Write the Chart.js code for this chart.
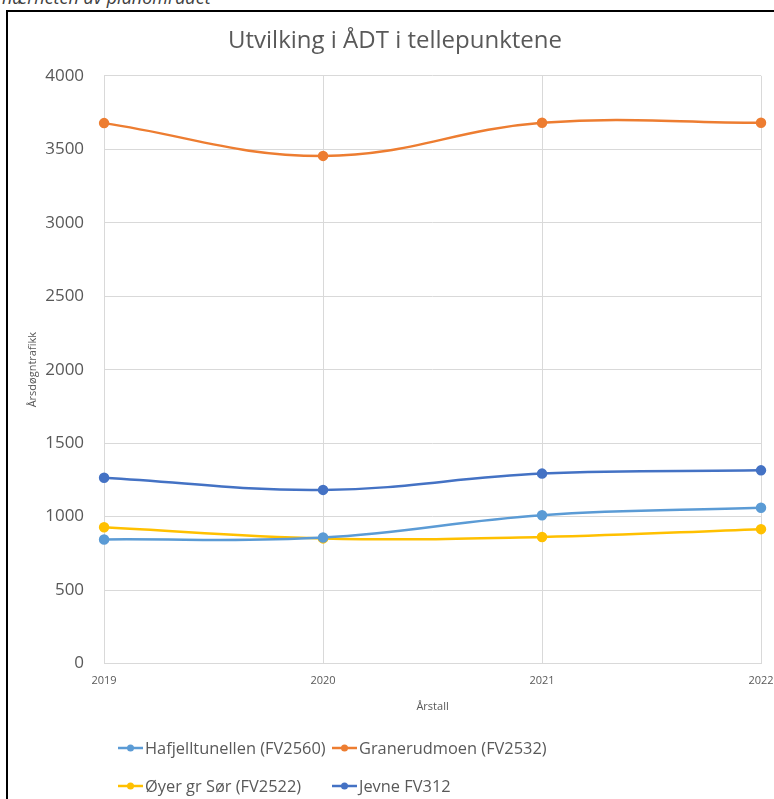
<!DOCTYPE html>
<html lang="no">
<head>
    <meta charset="UTF-8">
    <title>Utvilking i ÅDT i tellepunktene</title>
    <script src="https://cdn.jsdelivr.net/npm/chart.js"></script>
    <style>
        body {
            margin: 0;
            background: #ffffff;
            width: 774px;
            height: 799px;
            overflow: hidden;
            position: relative;
            font-family: 'Open Sans', sans-serif;
        }
        .caption {
            position: absolute;
            left: 2px;
            top: -15px;
            font-size: 18px;
            font-style: italic;
            color: #404040;
            white-space: nowrap;
        }
        .frame {
            position: absolute;
            left: 6px;
            top: 10px;
            width: 800px;
            height: 800px;
            border-left: 2px solid #000;
            border-top: 2px solid #000;
        }
        .chart-box {
            position: absolute;
            left: 8px;
            top: 12px;
            width: 766px;
            height: 787px;
        }
    </style>
</head>
<body>
    <div class="caption">nærheten av planområdet</div>
    <div class="frame"></div>
    <div class="chart-box">
        <canvas id="adtChart"></canvas>
    </div>

    <script>
        // Data lest av figuren
        const years = ['2019', '2020', '2021', '2022'];
        const hafjelltunellen = [845, 858, 1010, 1060];
        const granerudmoen = [3678, 3455, 3680, 3680];
        const oyerSor = [928, 852, 862, 915];
        const jevne = [1265, 1182, 1293, 1315];
        const seriesNames = ['Hafjelltunellen (FV2560)', 'Granerudmoen (FV2532)', 'Øyer gr Sør (FV2522)', 'Jevne FV312'];
        const seriesColors = ['#5B9BD5', '#ED7D31', '#FFC000', '#4472C4'];
        const yTicks = [0, 500, 1000, 1500, 2000, 2500, 3000, 3500, 4000];

        const textColor = '#595959';
        const gridColor = '#d9d9d9';

        function makeSet(i, values) {
            return {
                label: seriesNames[i],
                data: values,
                borderColor: seriesColors[i],
                backgroundColor: seriesColors[i],
                borderWidth: 2.5,
                pointRadius: 4,
                pointHoverRadius: 4,
                tension: 0.4,
                fill: false
            };
        }

        // Legende i to kolonner, slik Excel tegner den
        const excelLegend = {
            id: 'excelLegend',
            afterDraw(chart) {
                const ctx = chart.ctx;
                const cols = [110, 324];
                const rows = [chart.height - 51, chart.height - 13];
                ctx.save();
                ctx.font = '16.4px "Open Sans", sans-serif';
                ctx.textBaseline = 'middle';
                chart.data.datasets.forEach((ds, i) => {
                    const x = cols[i % 2];
                    const y = rows[Math.floor(i / 2)];
                    ctx.strokeStyle = ds.borderColor;
                    ctx.lineWidth = 2.5;
                    ctx.beginPath();
                    ctx.moveTo(x, y);
                    ctx.lineTo(x + 25, y);
                    ctx.stroke();
                    ctx.fillStyle = ds.borderColor;
                    ctx.beginPath();
                    ctx.arc(x + 12.5, y, 3.5, 0, Math.PI * 2);
                    ctx.fill();
                    ctx.fillStyle = textColor;
                    ctx.fillText(ds.label, x + 27, y + 1);
                });
                ctx.restore();
            }
        };

        const ctx = document.getElementById('adtChart').getContext('2d');
        new Chart(ctx, {
            type: 'line',
            data: {
                labels: years,
                datasets: [
                    makeSet(0, hafjelltunellen),
                    makeSet(1, granerudmoen),
                    makeSet(2, oyerSor),
                    makeSet(3, jevne)
                ]
            },
            options: {
                responsive: true,
                maintainAspectRatio: false,
                animation: false,
                layout: {
                    padding: { left: 8, right: 0, top: 13, bottom: 86 }
                },
                plugins: {
                    legend: { display: false },
                    tooltip: { enabled: false },
                    title: {
                        display: true,
                        text: 'Utvilking i ÅDT i tellepunktene',
                        color: textColor,
                        font: { family: 'Open Sans', size: 24, weight: 'normal' },
                        padding: { top: 2, bottom: 20 }
                    }
                },
                scales: {
                    x: {
                        offset: false,
                        afterFit(axis) {
                            axis.paddingRight = 13;
                        },
                        grid: { color: gridColor, drawTicks: false },
                        border: { color: gridColor },
                        ticks: {
                            color: textColor,
                            font: { family: 'Open Sans', size: 11 },
                            padding: 11,
                            maxRotation: 0
                        },
                        title: {
                            display: true,
                            text: 'Årstall',
                            color: textColor,
                            font: { family: 'Open Sans', size: 11 },
                            padding: { top: 1, bottom: 0 }
                        }
                    },
                    y: {
                        min: 0,
                        max: 4000,
                        afterBuildTicks(axis) {
                            axis.ticks = yTicks.map(v => ({ value: v }));
                        },
                        afterFit(axis) {
                            axis.width -= 16;
                        },
                        grid: { color: gridColor, drawTicks: false },
                        border: { display: false },
                        ticks: {
                            color: textColor,
                            font: { family: 'Open Sans', size: 17 },
                            padding: 20,
                            callback: v => String(v)
                        },
                        title: {
                            display: true,
                            text: 'Årsdøgntrafikk',
                            color: textColor,
                            font: { family: 'Open Sans', size: 11 },
                            padding: { top: 10, bottom: 2 }
                        }
                    }
                }
            },
            plugins: [excelLegend]
        });
    </script>
</body>
</html>
